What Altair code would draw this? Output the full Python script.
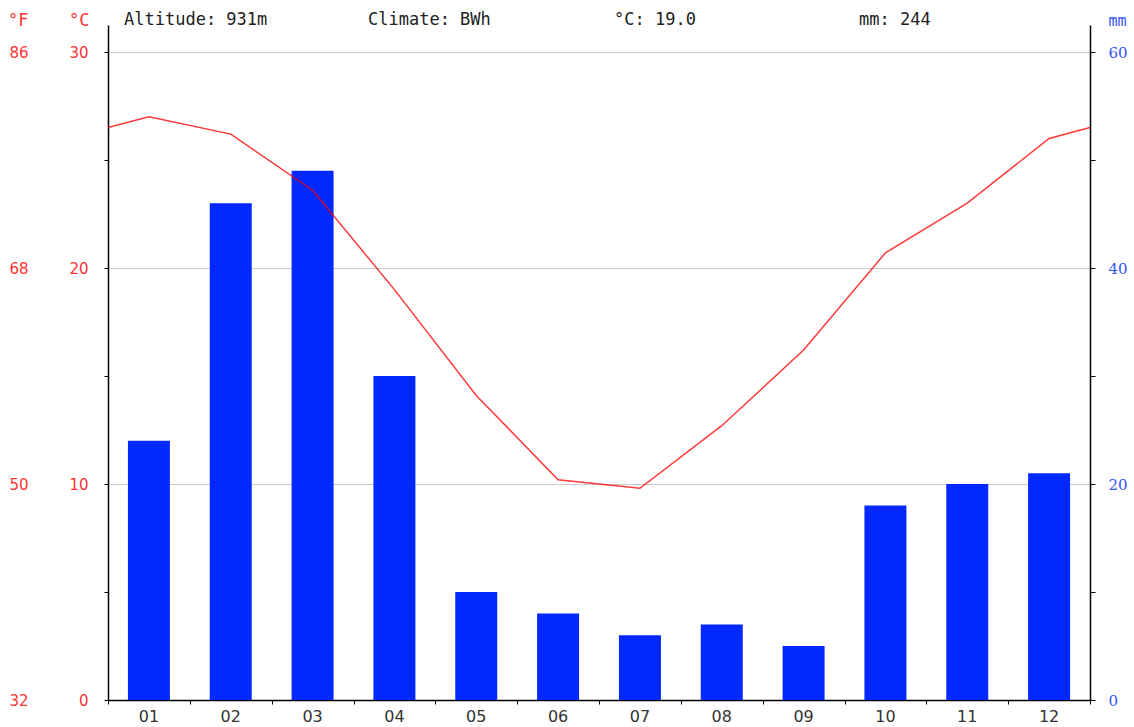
import altair as alt
import pandas as pd

# Monthly climate normals
months = ["01", "02", "03", "04", "05", "06", "07", "08", "09", "10", "11", "12"]
temp_c = [27.0, 26.2, 23.6, 19.0, 14.1, 10.2, 9.8, 12.7, 16.2, 20.7, 23.0, 26.0]
precip_mm = [24, 46, 49, 30, 10, 8, 6, 7, 5, 18, 20, 21]
altitude_m = 931
climate_class = "BWh"

# Axis tick values
c_ticks = [0, 5, 10, 15, 20, 25, 30]
f_ticks = [32, 50, 68, 86]
mm_ticks = [0, 10, 20, 30, 40, 50, 60]

# Scale extents (the axes run a little above the top gridline)
C_MAX = 31.25
MM_MAX = 62.5
F_MIN = 32.0
F_MAX = F_MIN + C_MAX * 1.8

RED = "#ff3333"
BLUE = "#0028ff"
BLUE_TEXT = "#3355ff"
MONO = "DejaVu Sans Mono"

mean_t = sum(temp_c) / len(temp_c)
total_p = sum(precip_mm)

# Temperature line runs edge to edge, wrapping Dec -> Jan at both ends
edge_t = (temp_c[0] + temp_c[-1]) / 2
line_df = pd.DataFrame({
    "m": [0.5] + [i + 1 for i in range(12)] + [12.5],
    "t": [edge_t] + temp_c + [edge_t],
})
bar_df = pd.DataFrame({"month": months, "mm": precip_mm})
f_df = pd.DataFrame({"f": f_ticks})
one = pd.DataFrame({"k": [0]})

bars = alt.Chart(bar_df).mark_bar(color=BLUE).encode(
    x=alt.X(
        "month:N",
        sort=months,
        scale=alt.Scale(domain=months, paddingInner=0.487, paddingOuter=0.2435),
        axis=alt.Axis(
            orient="bottom", title=None, ticks=False, tickSize=0, domain=False,
            labelPadding=8, labelFont="DejaVu Sans", labelFontSize=16,
            labelColor="#333333", labelAngle=0, grid=False,
        ),
    ),
    y=alt.Y(
        "mm:Q",
        scale=alt.Scale(domain=[0, MM_MAX], nice=False),
        axis=alt.Axis(
            orient="right", values=mm_ticks,
            labelExpr="datum.value % 20 === 0 ? datum.label : ''",
            tickSize=5, tickColor="#000000", domainColor="#000000", domainWidth=1.5,
            labelPadding=13, labelFont="DejaVu Serif", labelFontSize=15,
            labelColor=BLUE_TEXT, labelFlush=False, labelOverlap=False, grid=False,
            title="mm", titleAngle=0, titleX=18, titleY=0, titleAlign="left",
            titleBaseline="alphabetic", titleFont=MONO, titleFontSize=15,
            titleFontWeight="normal", titleColor=BLUE_TEXT,
        ),
    ),
)

line = alt.Chart(line_df).mark_line(color="#ff0000", strokeWidth=1.5, opacity=0.78).encode(
    x=alt.X(
        "m:Q",
        scale=alt.Scale(domain=[0.5, 12.5], nice=False, zero=False),
        axis=alt.Axis(
            orient="bottom", title=None, values=[i + 0.5 for i in range(13)],
            labels=False, tickSize=4, tickColor="#000000",
            domainColor="#000000", domainWidth=1.5, grid=False,
        ),
    ),
    y=alt.Y(
        "t:Q",
        scale=alt.Scale(domain=[0, C_MAX], nice=False),
        axis=alt.Axis(
            orient="left", values=c_ticks,
            labelExpr="datum.value % 10 === 0 ? datum.label : ''",
            tickSize=4, tickColor="#000000", domainColor="#000000", domainWidth=1.5,
            labelPadding=16, labelFont="DejaVu Sans", labelFontSize=15,
            labelColor=RED, labelFlush=False, labelOverlap=False, grid=False,
            title="°C", titleAngle=0, titleX=-19, titleY=0, titleAlign="right",
            titleBaseline="alphabetic", titleFont=MONO, titleFontSize=17,
            titleFontWeight="normal", titleColor=RED,
        ),
    ),
)

# Fahrenheit axis: labels far left, also carries the horizontal gridlines
fahr = alt.Chart(f_df).mark_point(opacity=0).encode(
    y=alt.Y(
        "f:Q",
        scale=alt.Scale(domain=[F_MIN, F_MAX], nice=False, zero=False),
        axis=alt.Axis(
            orient="left", values=f_ticks, ticks=False, tickSize=0, domain=False,
            labelPadding=80, labelFont="DejaVu Sans", labelFontSize=15,
            labelColor=RED, labelFlush=False, labelOverlap=False,
            grid=True, gridColor="#cccccc", gridWidth=1,
            title="°F", titleAngle=0, titleX=-80, titleY=0, titleAlign="right",
            titleBaseline="alphabetic", titleFont=MONO, titleFontSize=17,
            titleFontWeight="normal", titleColor=RED,
        ),
    ),
)

header_items = [
    (f"Altitude: {altitude_m}m", 16),
    (f"Climate: {climate_class}", 260),
    (f"°C: {mean_t:.1f}", 506),
    (f"mm: {total_p}", 751),
]
headers = [
    alt.Chart(one).mark_text(
        text=txt, align="left", baseline="alphabetic",
        font=MONO, fontSize=17, color="#222222",
    ).encode(x=alt.value(dx), y=alt.value(0))
    for txt, dx in header_items
]

chart = (
    alt.layer(bars, line, fahr, *headers)
    .resolve_scale(x="independent", y="independent")
    .properties(
        width=982,
        height=675,
        autosize=alt.AutoSizeParams(type="none"),
        padding={"left": 108, "top": 25, "right": 44, "bottom": 27},
        background="white",
    )
    .configure_view(stroke=None)
)

chart.save("out.html", embed_options={"renderer": "svg", "actions": False})
